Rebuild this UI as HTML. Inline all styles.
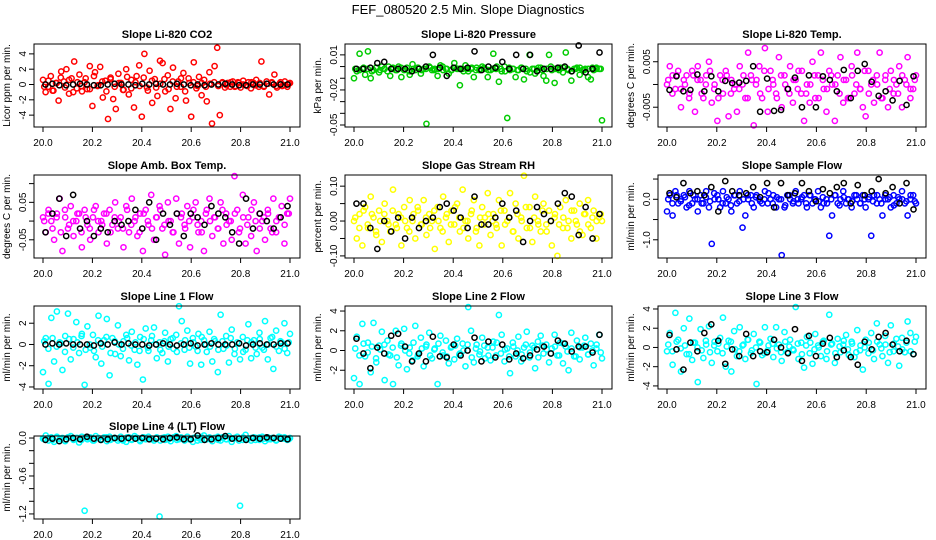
<!DOCTYPE html>
<html><head><meta charset="utf-8"><style>
html,body{margin:0;padding:0;background:#fff;}
svg{display:block;font-family:"Liberation Sans",sans-serif;}
</style></head><body>
<svg id="chart" width="936" height="540" viewBox="0 0 936 540" xmlns="http://www.w3.org/2000/svg">
<rect width="936" height="540" fill="#fff"/>
<text x="468" y="14" text-anchor="middle" font-size="13">FEF_080520  2.5 Min. Slope Diagnostics</text>
</svg>
<script>
const xTickLabels = ["20.0","20.2","20.4","20.6","20.8","21.0"];
const xTicks = [20.0,20.2,20.4,20.6,20.8,21.0];

const co2Vals = [0.6,-1.0,-0.3,1.1,-0.8,0.2,-2.1,1.7,0.4,2.0,-1.2,0.8,3.0,-0.5,1.3,-0.9,0.3,-0.6,2.4,-2.8,1.6,-0.2,2.3,-1.7,0.5,-4.5,0.9,-1.9,-3.2,1.4,0.2,-0.7,2.0,-1.3,0.6,-3.0,1.1,2.5,-4.2,4.0,-0.4,1.8,-2.4,0.7,-1.5,3.1,2.8,-0.9,1.2,-3.2,2.2,-1.8,0.4,-0.3,1.5,-2.1,0.8,-4.2,2.9,-0.5,1.0,-1.4,0.6,-2.2,1.6,-5.1,2.4,4.8,-4.0,0.3,-0.4,0.2,-0.3,0.4,-0.2,0.3,-0.4,0.5,-0.1,0.3,-0.5,0.2,0.6,-0.3,3.0,-0.2,0.4,-1.3,0.3,1.3,-0.4,0.1,-0.2,0.4,-0.3,0.2];
const co2Core = [-0.3,0.5,-0.8,0.2,0.9,-0.4,0.6,-1.0,0.3,-0.2,0.8,-0.6,1.1,-0.1,0.4,-0.9,0.7,-0.3,0.2,-0.7,1.0,-0.5,0.3,-0.2,0.9,-0.8,0.5,-0.4,0.1,0.7,-0.6,0.4,-0.3,0.8,-0.9,0.2,0.3,-0.2,0.2,-0.3,0.1,0.3,-0.2,0.2,-0.1,0.3,-0.3,0.2,0.0,-0.2,0.3,-0.1,0.2,-0.3,0.1,0.2,-0.2,0.3,-0.1,0.1];
const co2Ref = [0.0,0.1,-0.1,-0.1,0.0,0.1,0.0,-0.1,-0.1,0.0,0.1,0.0,0.0,-0.1,0.1,0.0,0.1,0.0,0.0,0.1,0.0,-0.1,0.0,-0.1,0.0,0.0,0.1,0.0,-0.1,-0.1,0.0,0.0,0.1,0.0,0.0,0.0];

const presVals = [-0.010,-0.004,0.011,-0.002,-0.007,0.013,-0.010,-0.003,-0.001,-0.005,0.000,-0.002,-0.004,-0.008,-0.001,-0.003,0.000,-0.009,-0.003,-0.001,-0.007,0.002,-0.003,-0.001,-0.006,-0.002,-0.049,0.000,-0.003,-0.002,-0.008,0.001,-0.003,-0.002,-0.006,-0.003,0.003,-0.002,-0.016,-0.002,0.001,-0.004,-0.002,-0.009,-0.001,-0.003,0.000,-0.002,-0.009,-0.003,0.011,-0.002,-0.013,-0.004,0.000,-0.044,-0.003,-0.002,-0.009,-0.003,-0.001,-0.011,-0.004,0.010,-0.002,-0.006,-0.003,-0.001,-0.008,-0.012,0.010,-0.003,-0.014,-0.002,-0.001,-0.005,0.012,-0.003,-0.012,-0.002,-0.001,-0.007,-0.003,-0.002,-0.009,-0.011,-0.003,-0.001,-0.002,-0.046];
const presCore = [-0.002,-0.003,-0.001,-0.002,-0.004,-0.001,-0.003,-0.002,0.000,-0.002,-0.003,-0.001,-0.002,-0.004,-0.002,-0.001,-0.003,-0.002,-0.001,-0.003,-0.002,0.000,-0.002,-0.003,-0.001,-0.002,-0.004,-0.002,-0.001,-0.003,-0.002,-0.001,-0.003,-0.002,0.000,-0.002,-0.004,-0.001,-0.002,-0.003,-0.001,-0.002,-0.005,-0.002,-0.001,-0.003,-0.002,0.000,-0.002,-0.003,-0.001,-0.002,-0.004,-0.002,-0.001,-0.003,-0.002,-0.001,-0.002,-0.002];
const presRef = [-0.002,-0.002,-0.001,0.003,0.004,-0.002,-0.002,-0.002,-0.004,-0.002,0.000,0.010,-0.001,-0.008,-0.001,-0.002,-0.001,0.013,-0.003,0.000,-0.001,0.004,-0.002,0.010,-0.002,0.010,-0.004,-0.002,-0.002,-0.001,0.000,-0.004,0.018,-0.005,-0.002,0.012];

const tempVals = [0.000,0.004,0.002,-0.001,0.003,-0.005,0.001,0.002,-0.002,0.003,-0.006,0.004,0.001,-0.003,0.002,0.005,-0.004,0.000,-0.008,0.002,-0.002,0.003,-0.007,0.001,-0.001,-0.006,0.004,0.000,-0.003,0.007,0.002,-0.009,0.001,0.004,-0.003,0.008,-0.006,0.003,0.000,-0.002,0.006,-0.005,0.002,-0.001,0.004,-0.004,0.001,0.003,-0.002,-0.008,0.000,-0.004,0.005,-0.003,0.002,0.007,-0.001,-0.006,0.003,0.000,-0.008,0.002,0.006,-0.004,0.001,-0.003,0.004,-0.002,0.007,-0.001,-0.005,-0.007,0.003,0.000,-0.004,0.002,0.007,-0.003,0.001,-0.005,0.003,-0.002,0.000,0.004,-0.005,0.001,0.006,-0.003,-0.001,0.002];
const tempCore = [0.001,-0.002,0.002,-0.001,0.000,-0.003,0.002,0.001,-0.002,0.000,0.003,-0.001,-0.003,0.001,0.002,-0.002,0.000,-0.001,0.002,-0.003,0.001,0.000,-0.002,0.003,-0.001,0.001,-0.003,0.002,0.000,-0.002,0.001,-0.001,0.003,-0.002,0.000,0.002,-0.003,0.001,-0.001,0.002,0.000,-0.002,0.001,-0.003,0.002,0.000,-0.001,0.003,-0.002,0.001,0.000,-0.003,0.002,-0.001,0.001,-0.002,0.002,0.000,-0.001,0.001];
const tempRef = [-0.0012,0.0018,-0.0015,-0.0012,0.0022,-0.0015,0.0018,-0.0015,0.0008,0.0003,0.0004,0.0008,0.0040,-0.0060,0.0013,-0.0058,-0.0056,-0.0010,0.0015,-0.0050,0.0020,-0.0050,0.0018,0.0010,-0.0015,0.0032,-0.0030,0.0030,0.0045,0.0006,-0.0025,-0.0015,-0.0035,0.0008,-0.0045,0.0018];

const ambVals = [0.01,-0.03,0.03,0.00,-0.05,0.02,0.06,-0.08,0.01,-0.02,0.04,-0.04,0.00,0.02,-0.07,0.03,-0.01,-0.05,0.01,0.04,-0.03,0.00,0.02,-0.06,0.03,-0.01,0.05,-0.02,0.01,-0.07,0.04,-0.03,0.06,0.00,-0.04,0.02,-0.08,0.03,-0.01,0.07,-0.05,0.01,0.04,-0.02,-0.09,0.05,0.00,-0.03,0.06,-0.06,0.02,-0.01,0.04,-0.07,0.01,0.05,-0.03,0.00,-0.08,0.03,0.06,-0.04,0.01,-0.02,0.05,-0.06,0.02,0.00,-0.05,0.12,0.03,-0.02,0.07,-0.06,0.01,-0.04,0.05,-0.08,0.02,0.00,-0.05,0.03,-0.02,0.06,-0.03,0.01,0.04,-0.06,0.02,0.06];
const ambCore = [0.00,0.02,-0.02,0.01,-0.03,0.03,-0.01,0.00,0.02,-0.03,0.01,-0.02,0.03,0.00,-0.01,0.02,-0.03,0.01,0.00,-0.02,0.03,-0.01,0.01,-0.03,0.02,0.00,-0.02,0.01,0.03,-0.01,0.00,-0.03,0.02,0.01,-0.02,0.00,0.03,-0.01,-0.03,0.02,0.00,0.01,-0.02,0.03,-0.01,0.00,0.02,-0.03,0.01,-0.01,0.03,0.00,-0.02,0.01,0.02,-0.03,0.00,0.01,-0.01,0.02];
const ambRef = [-0.03,0.02,0.06,-0.04,0.07,-0.02,0.00,-0.04,-0.02,-0.03,0.00,-0.01,0.00,0.03,-0.02,0.05,-0.05,0.02,-0.01,0.02,-0.04,0.02,0.01,-0.01,0.04,0.02,0.01,-0.03,-0.06,0.06,-0.02,0.02,0.00,-0.02,0.01,0.04];

const rhVals = [0.00,-0.05,0.02,-0.07,0.04,-0.02,0.07,0.01,-0.04,0.03,-0.06,0.05,0.00,-0.03,0.09,-0.01,0.02,-0.07,0.04,-0.02,0.06,0.00,-0.05,0.03,-0.01,0.06,-0.04,0.02,0.00,-0.08,0.04,-0.02,0.07,0.01,-0.06,0.03,-0.01,0.05,-0.03,0.09,0.00,-0.05,0.02,0.06,-0.02,-0.07,0.04,0.01,0.08,-0.04,0.02,-0.01,0.06,-0.07,0.03,0.00,0.08,-0.03,0.05,-0.05,0.01,0.13,-0.02,0.04,-0.06,0.07,0.00,-0.03,0.05,-0.01,0.03,-0.07,0.01,-0.10,0.04,-0.02,0.06,0.00,-0.05,0.03,-0.01,0.05,-0.04,0.02,0.06,-0.02,0.03,-0.05,0.01,0.00];
const rhCore = [0.01,-0.02,0.03,-0.01,0.02,-0.03,0.00,0.02,-0.01,0.03,-0.02,0.01,0.00,-0.03,0.02,0.04,-0.01,0.01,-0.02,0.03,0.00,-0.03,0.02,-0.01,0.04,0.01,-0.02,0.00,0.03,-0.03,0.01,-0.01,0.02,0.00,-0.02,0.03,-0.01,0.01,-0.03,0.02,0.00,0.04,-0.02,0.01,-0.01,0.03,-0.03,0.00,0.02,-0.01,0.01,-0.02,0.03,0.00,-0.03,0.02,-0.01,0.01,0.00,0.02];
const rhRef = [0.05,0.05,-0.02,-0.08,0.00,-0.03,0.01,-0.05,0.01,-0.02,0.00,0.01,0.04,0.05,0.03,0.01,-0.02,0.07,-0.01,-0.01,0.01,0.05,0.01,0.03,-0.06,0.00,0.04,0.02,0.00,0.05,0.08,0.07,-0.04,0.04,-0.05,0.02];

const flowVals = [-0.3,0.1,-0.4,0.2,-0.1,0.0,0.1,-0.2,0.2,-0.1,0.0,-0.3,0.1,-0.1,0.2,-0.2,-1.1,0.0,0.1,-0.2,0.2,-0.1,0.0,-0.3,0.1,-0.1,0.2,-0.7,-0.4,0.0,0.1,-0.2,0.1,0.0,-0.1,0.2,-0.1,0.0,0.1,-0.2,0.0,-1.38,-0.2,0.1,0.0,-0.1,0.2,-0.1,0.0,0.1,-0.2,0.1,-0.1,0.0,0.2,-0.2,-0.1,0.0,-0.9,-0.4,0.1,-0.1,0.0,0.2,-0.1,0.0,-0.2,0.1,0.0,-0.1,0.1,-0.2,0.0,-0.9,0.1,-0.1,0.0,-0.4,0.1,0.0,-0.2,0.1,-0.1,0.0,0.2,-0.1,-0.4,0.0,0.1,-0.1];
const flowCore = [0.0,-0.1,0.1,-0.05,0.05,-0.15,0.1,0.0,-0.1,0.05,-0.05,0.15,0.0,-0.1,0.05,-0.15,0.1,-0.05,0.0,0.1,-0.1,0.05,-0.05,0.0,0.15,-0.1,0.05,0.0,-0.15,0.1,-0.05,0.0,0.05,-0.1,0.1,0.0,-0.05,0.05,-0.1,0.0,0.1,-0.15,0.05,0.0,-0.05,0.1,-0.1,0.0,0.05,-0.05,0.1,-0.1,0.0,0.05,-0.15,0.05,0.0,-0.05,0.1,-0.05];
const flowRef = [0.15,0.05,0.4,0.15,0.2,0.1,0.3,-0.3,0.45,0.2,0.1,0.15,0.3,0.05,0.4,-0.2,0.4,0.1,0.15,0.4,0.2,-0.05,0.25,0.15,0.3,0.4,-0.1,0.35,0.1,0.2,0.5,0.15,0.3,-0.1,0.4,-0.25];

const l1Vals = [-2.6,0.6,-3.7,2.5,-1.6,3.1,0.2,-2.4,0.8,2.9,-1.4,0.5,2.1,-0.8,1.0,-3.8,1.7,-0.3,0.9,-1.2,2.7,-1.8,0.4,2.4,-2.9,0.6,-0.9,1.8,-1.1,0.3,0.9,-1.5,1.2,-0.5,-1.9,0.7,-3.3,1.5,-0.6,0.4,1.6,-1.3,0.2,-0.8,1.1,-1.6,0.5,-0.4,0.9,3.6,2.2,-0.5,1.3,-1.8,0.6,-0.2,1.0,-1.9,0.4,-0.7,1.2,-1.6,0.3,-2.6,2.8,-0.4,0.8,-1.7,1.4,-0.9,0.2,-1.4,0.7,-0.5,1.9,-1.3,0.4,-0.9,1.1,-0.3,2.2,-1.4,0.6,-2.3,1.3,-0.6,0.2,2.0,-0.8,1.0];
const l1Core = [0.3,-0.4,0.6,-0.2,0.1,-0.7,0.5,-0.3,0.2,0.8,-0.5,0.0,-0.6,0.4,-0.2,0.7,-0.8,0.3,0.0,-0.4,0.6,-0.1,0.2,-0.6,0.5,-0.3,0.8,0.0,-0.5,0.3,-0.2,0.6,-0.7,0.1,0.4,-0.3,0.2,-0.6,0.7,0.0,-0.2,0.5,-0.5,0.3,-0.1,0.6,-0.4,0.1,-0.7,0.4,0.2,-0.3,0.5,-0.5,0.0,0.7,-0.2,0.3,-0.4,0.2];
const l1Ref = [0.0,0.1,0.0,0.1,0.0,0.0,0.0,-0.1,0.1,0.0,0.2,0.0,0.1,0.0,0.0,-0.1,0.0,0.1,0.0,-0.1,0.0,0.1,-0.1,0.0,0.1,0.0,0.0,0.0,0.1,-0.1,0.0,0.1,0.0,0.0,0.1,0.1];

const l2Vals = [-2.8,1.4,-3.4,2.7,-0.6,0.8,-2.2,2.8,-1.2,0.5,1.9,-3.0,1.0,-0.5,-3.4,2.0,-1.5,0.7,2.2,-1.9,0.3,-1.0,2.5,-0.4,1.3,-1.6,0.6,1.8,-0.8,0.2,-3.4,1.5,-0.5,1.0,-1.3,0.4,-0.9,1.2,-0.3,0.7,-1.6,4.4,2.0,-1.2,0.6,-0.4,1.3,-0.8,0.3,-1.0,0.9,-0.5,3.6,1.6,-1.1,0.2,-2.3,0.8,-0.6,1.4,-1.1,0.3,1.9,-0.7,0.5,-1.8,0.9,1.5,-0.3,0.6,-1.2,0.2,1.6,-0.5,0.8,-1.3,0.4,-2.0,1.8,-0.6,1.0,-0.9,0.3,1.3,-0.4,0.7,-1.5,0.2,1.6,-0.8];
const l2Core = [0.2,-0.5,0.7,-0.2,0.4,-0.8,0.1,0.6,-0.4,0.3,-0.7,0.5,0.0,-0.3,0.8,-0.6,0.2,0.4,-0.5,0.1,0.7,-0.2,-0.6,0.3,0.5,-0.4,0.0,0.6,-0.7,0.2,-0.1,0.5,-0.5,0.3,0.8,-0.3,0.1,-0.6,0.4,0.0,-0.4,0.6,-0.2,0.3,-0.7,0.5,0.1,-0.3,0.4,-0.5,0.7,-0.1,0.2,-0.6,0.3,0.5,-0.4,0.0,0.6,-0.2];
const l2Ref = [1.2,-0.3,-1.8,0.3,-0.3,1.5,1.7,0.4,-1.1,-0.3,-1.1,1.4,-0.6,-0.7,0.6,-0.5,0.0,1.3,-1.1,0.9,-0.7,0.6,-0.9,-0.3,-0.8,-0.5,0.1,0.4,-0.3,1.0,0.7,-0.1,0.4,0.4,-0.2,1.6];

const l3Vals = [-0.4,1.5,-1.8,3.6,0.8,-2.5,2.0,-0.7,3.0,-1.3,0.5,-3.6,1.9,-1.1,0.3,2.2,-1.6,0.6,-0.4,1.0,3.1,-2.0,0.7,-2.5,1.7,-0.9,2.1,0.2,-1.2,0.8,-0.6,1.4,-3.8,0.6,-0.8,2.1,-0.3,0.9,-1.0,2.1,0.3,-1.4,1.6,-0.5,0.8,-0.2,4.2,-1.2,0.5,-2.1,1.1,-0.6,-1.7,1.4,0.2,-0.9,0.7,-1.2,3.4,0.4,-1.6,0.9,-0.5,0.3,1.3,-0.8,0.6,-1.0,1.8,-0.3,-2.3,0.8,-0.6,1.5,-1.2,2.5,0.3,-0.9,1.2,-1.6,2.3,-0.4,0.9,-1.9,1.0,-0.5,2.7,1.5,-0.7,1.1];
const l3Core = [0.3,-0.4,0.6,-0.1,0.2,-0.7,0.5,0.0,-0.3,0.7,-0.5,0.2,0.4,-0.6,0.1,0.6,-0.2,-0.4,0.3,0.8,-0.3,0.0,0.5,-0.6,0.2,0.4,-0.1,-0.5,0.6,0.1,-0.3,0.4,-0.7,0.2,0.5,-0.2,0.0,0.6,-0.4,0.3,-0.6,0.1,0.7,-0.2,0.4,-0.5,0.2,0.0,0.5,-0.3,0.6,-0.1,0.3,-0.5,0.4,0.1,-0.2,0.5,-0.4,0.6];
const l3Ref = [1.3,-0.2,-2.3,0.5,-0.4,1.5,2.4,0.7,-1.7,-0.2,-0.9,1.4,-0.9,-0.4,-0.5,0.8,0.0,-0.6,1.9,-1.4,1.2,-0.9,0.4,1.0,-1.0,-0.3,-1.0,-1.8,0.6,-0.2,1.1,1.5,0.3,-0.4,0.7,-0.7];

const l4Vals = [-0.01,0.04,-0.04,0.01,-0.06,0.02,-0.02,0.00,-0.05,0.01,0.03,-0.03,0.00,-0.07,0.02,-1.15,-0.02,0.01,-0.04,0.03,0.00,-0.03,0.01,-0.05,0.02,-0.01,0.00,-0.04,0.02,-0.02,-0.06,0.01,-0.03,0.03,0.00,-0.05,0.01,-0.02,0.02,-0.01,-0.04,0.01,-1.24,0.00,-0.03,0.02,-0.05,0.01,0.03,-0.02,0.00,-0.04,0.02,-0.01,-0.06,0.01,0.00,-0.03,0.04,-0.02,0.01,-0.05,0.00,0.02,-0.04,0.01,-0.02,0.03,-0.06,0.00,0.02,-1.07,-0.03,0.05,-0.01,-0.04,0.01,0.00,-0.03,0.02,-0.05,0.01,-0.02,0.00,-0.04,0.02,-0.01,0.01,-0.03,0.00];
const l4Core = [-0.02,0.00,-0.03,0.01,-0.01,-0.04,0.01,-0.02,0.00,-0.03,0.01,-0.01,-0.04,0.00,-0.02,0.01,-0.03,0.00,-0.01,-0.04,0.01,-0.02,0.00,-0.03,0.01,-0.01,-0.02,0.00,-0.04,0.01,-0.02,0.00,-0.03,0.01,-0.01,-0.02,0.00,-0.04,0.01,-0.02,-0.01,0.00,-0.03,0.01,-0.02,-0.01,0.00,-0.04,0.01,-0.02,0.00,-0.03,0.01,-0.01,-0.02,0.00,-0.03,0.01,-0.01,-0.02];
const l4Ref = [-0.03,-0.01,-0.05,-0.02,0.00,-0.02,0.02,-0.01,-0.03,-0.02,0.00,-0.01,0.00,-0.01,0.00,-0.02,-0.01,-0.02,0.00,0.01,-0.02,-0.02,0.04,-0.03,-0.02,0.00,0.03,-0.01,-0.01,-0.03,0.00,-0.01,0.01,0.00,-0.01,-0.02];

const panels = [
 {name:"co2",title:"Slope Li-820 CO2",ylab:"Licor ppm per min.",col:0,row:0,ymin:-5.55,ymax:5.29,color:"#ff0000",vals:co2Vals,core:co2Core,ref:co2Ref,yt:[-4,-2,0,2,4],yl:["-4","-2","0","2","4"]},
 {name:"pressure",title:"Slope Li-820 Pressure",ylab:"kPa per min.",col:1,row:0,ymin:-0.0517,ymax:0.0193,color:"#00cc00",vals:presVals,core:presCore,ref:presRef,yt:[-0.05,-0.04,-0.03,-0.02,-0.01,0,0.01],yl:["-0.05","","","-0.02","","","0.01"]},
 {name:"temp",title:"Slope Li-820 Temp.",ylab:"degrees C per min.",col:2,row:0,ymin:-0.00935,ymax:0.0089,color:"#ff00ff",vals:tempVals,core:tempCore,ref:tempRef,yt:[-0.005,0,0.005],yl:["-0.005","","0.005"]},
 {name:"amb-box-temp",title:"Slope Amb. Box Temp.",ylab:"degrees C per min.",col:0,row:1,ymin:-0.0986,ymax:0.123,color:"#ff00ff",vals:ambVals,core:ambCore,ref:ambRef,yt:[-0.05,0,0.05,0.1],yl:["-0.05","","0.05",""]},
 {name:"gas-stream-rh",title:"Slope Gas Stream RH",ylab:"percent per min.",col:1,row:1,ymin:-0.106,ymax:0.132,color:"#ffff00",vals:rhVals,core:rhCore,ref:rhRef,yt:[-0.1,-0.05,0,0.05,0.1],yl:["-0.10","","0.00","","0.10"]},
 {name:"sample-flow",title:"Slope Sample Flow",ylab:"ml/min per min.",col:2,row:1,ymin:-1.45,ymax:0.6,color:"#0000ff",vals:flowVals,core:flowCore,ref:flowRef,yt:[-1,-0.5,0,0.5],yl:["-1.0","","0.0",""]},
 {name:"line1-flow",title:"Slope Line 1 Flow",ylab:"ml/min per min.",col:0,row:2,ymin:-4.19,ymax:3.62,color:"#00ffff",vals:l1Vals,core:l1Core,ref:l1Ref,yt:[-4,-2,0,2],yl:["-4","-2","0","2"]},
 {name:"line2-flow",title:"Slope Line 2 Flow",ylab:"ml/min per min.",col:1,row:2,ymin:-3.9,ymax:4.51,color:"#00ffff",vals:l2Vals,core:l2Core,ref:l2Ref,yt:[-2,0,2,4],yl:["-2","0","2","4"]},
 {name:"line3-flow",title:"Slope Line 3 Flow",ylab:"ml/min per min.",col:2,row:2,ymin:-4.32,ymax:4.31,color:"#00ffff",vals:l3Vals,core:l3Core,ref:l3Ref,yt:[-4,-2,0,2,4],yl:["-4","-2","0","2","4"]},
 {name:"line4-flow",title:"Slope Line 4 (LT) Flow",ylab:"ml/min per min.",col:0,row:3,ymin:-1.28,ymax:0.032,color:"#00ffff",vals:l4Vals,core:l4Core,ref:l4Ref,yt:[-1.2,-1.0,-0.8,-0.6,-0.4,-0.2,0],yl:["-1.2","","","-0.6","","","0.0"]}
];

const NS="http://www.w3.org/2000/svg";
const svg=document.getElementById('chart');
const colLeft=[34,345,658], colRight=[300,612,926];
const rowTop=[44,175,306,436], boxH=83;
function mk(tag,attrs,parent){const e=document.createElementNS(NS,tag);for(const k in attrs)e.setAttribute(k,attrs[k]);(parent||svg).appendChild(e);return e;}

panels.forEach(p=>{
  const L=colLeft[p.col],R=colRight[p.col],T=rowTop[p.row],B=T+boxH;
  const xs=v=>(L+9)+(v-20)*((R-10)-(L+9));
  const ys=v=>B-(v-p.ymin)/(p.ymax-p.ymin)*(B-T);
  const g=mk('g',{});
  
  
  const t=mk('text',{x:(L+R)/2,y:T-6,'text-anchor':'middle','font-size':11,'font-weight':'bold'},g);
  t.textContent=p.title;
  
  
  const yl=mk('text',{x:0,y:0,'text-anchor':'middle','font-size':10,transform:`translate(${L-24},${(T+B)/2}) rotate(-90)`},g);
  yl.textContent=p.ylab;
  
  
  const n=p.vals.length;
  p.vals.forEach((v,i)=>{
    const c=mk('circle',{cx:xs(20+i/(n-1)),cy:ys(v),r:2.6,fill:'none',stroke:p.color,'stroke-width':1.5},g);
    
    
  });
  const k=p.core.length;
  p.core.forEach((v,i)=>{
    const c=mk('circle',{cx:xs(20+0.005+i/(k-1)*0.99),cy:ys(v),r:2.6,fill:'none',stroke:p.color,'stroke-width':1.5},g);
    
    
  });
  const m=p.ref.length;
  p.ref.forEach((v,i)=>{
    const c=mk('circle',{cx:xs(20+0.01+i/(m-1)*0.98),cy:ys(v),r:2.6,fill:'none',stroke:'#000','stroke-width':1.5},g);
    
    
  });
  const box=mk('rect',{x:L,y:T,width:R-L,height:boxH,fill:'none',stroke:'#000','stroke-width':1},g);
  
  
  xTicks.forEach((v,i)=>{
    const x=xs(v);
    const tk=mk('line',{x1:x,x2:x,y1:B,y2:B+5,stroke:'#000'},g);
    
    
    const tl=mk('text',{x:x,y:B+19,'text-anchor':'middle','font-size':10},g);
    tl.textContent=xTickLabels[i];
    
    
  });
  p.yt.forEach((v,i)=>{
    const y=ys(v);
    const tk=mk('line',{x1:L-5,x2:L,y1:y,y2:y,stroke:'#000'},g);
    
    
    if(p.yl[i]){
      const tl=mk('text',{x:0,y:0,'text-anchor':'middle','font-size':10,transform:`translate(${L-8},${y}) rotate(-90)`},g);
      tl.textContent=p.yl[i];
      
      
    }
  });
});
</script>
</body></html>
